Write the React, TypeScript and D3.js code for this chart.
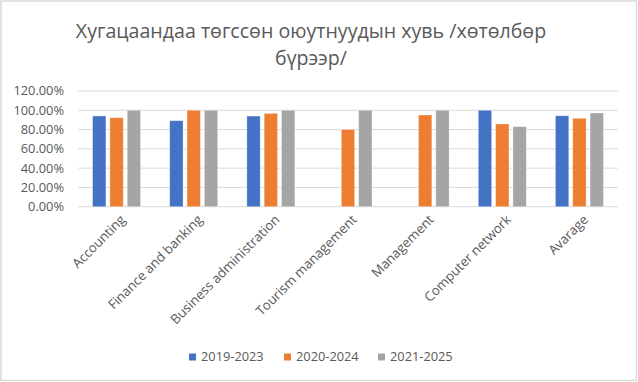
import React from "react";
import * as d3 from "d3";

const categories = [
  "Accounting",
  "Finance and banking",
  "Business administration",
  "Tourism management",
  "Management",
  "Computer network",
  "Avarage",
];
const series = ["2019-2023", "2020-2024", "2021-2025"];
const s2019: (number | null)[] = [0.941, 0.892, 0.94, null, null, 1.0, 0.943];
const s2020: (number | null)[] = [0.923, 1.0, 0.968, 0.8, 0.951, 0.858, 0.917];
const s2021: (number | null)[] = [1.0, 1.0, 1.0, 1.0, 1.0, 0.83, 0.972];
const seriesValues = [s2019, s2020, s2021];
const colors = ["#4472C4", "#ED7D31", "#A5A5A5"];
const yTicks = [0, 0.2, 0.4, 0.6, 0.8, 1.0, 1.2];
const titleLines = ["Хугацаандаа төгссөн оюутнуудын хувь /хөтөлбөр", "бүрээр/"];

const W = 638;
const H = 382;
const FONT = "'Open Sans', 'Liberation Sans', sans-serif";
const TEXT = "#595959";

export default function App() {
  const x0 = d3.scaleBand<string>().domain(categories).range([78, 618]).padding(0);
  const y = d3.scaleLinear().domain([0, 1.2]).range([206.7, 91]);
  const bw = x0.bandwidth();
  const x1 = d3
    .scaleBand<string>()
    .domain(series)
    .range([bw / 2 - 24, bw / 2 + 24])
    .paddingInner(0.23);
  const fmt = d3.format(".2%");
  const legendX = [189, 284, 378];

  return (
    <svg
      width={W}
      height={H}
      style={{ position: "absolute", left: 0, top: 0, background: "#fff" }}
      fontFamily={FONT}
    >
      <rect x={1} y={1} width={W - 2.5} height={H - 2.5} fill="#fff" stroke="#d9d9d9" strokeWidth={1.5} />
      {titleLines.map((t, i) => (
        <text
          key={i}
          x={311}
          y={38 + i * 27}
          textAnchor="middle"
          fontSize={19.6}
          fill={TEXT}
        >
          {t}
        </text>
      ))}
      {yTicks.map((t) => (
        <g key={t}>
          <line x1={78} x2={618} y1={y(t)} y2={y(t)} stroke="#d9d9d9" strokeWidth={1} />
          <text x={64} y={y(t)} dy="0.35em" textAnchor="end" fontSize={12.8} fill={TEXT}>
            {fmt(t)}
          </text>
        </g>
      ))}
      {categories.map((c, ci) => (
        <g key={c} transform={`translate(${x0(c)},0)`}>
          {series.map((s, si) => {
            const v = seriesValues[si][ci];
            if (v == null) return null;
            return (
              <rect
                key={s}
                x={x1(s)}
                y={y(v)}
                width={x1.bandwidth()}
                height={y(0) - y(v)}
                fill={colors[si]}
                stroke="#ffffff"
                strokeOpacity={0.4}
                strokeWidth={0.8}
              />
            );
          })}
        </g>
      ))}
      {categories.map((c) => {
        const cx = (x0(c) as number) + bw / 2 + 3;
        const cy = 214;
        return (
          <text
            key={c}
            transform={`translate(${cx},${cy}) rotate(-45)`}
            textAnchor="end"
            dy="0.7em"
            fontSize={13.2}
            fill={TEXT}
          >
            {c}
          </text>
        );
      })}
      {series.map((s, i) => (
        <g key={s} transform={`translate(${legendX[i]},357)`}>
          <rect x={0} y={-3.5} width={7} height={7} fill={colors[i]} />
          <text x={12} y={0} dy="0.35em" fontSize={12.8} fill={TEXT}>
            {s}
          </text>
        </g>
      ))}
    </svg>
  );
}
